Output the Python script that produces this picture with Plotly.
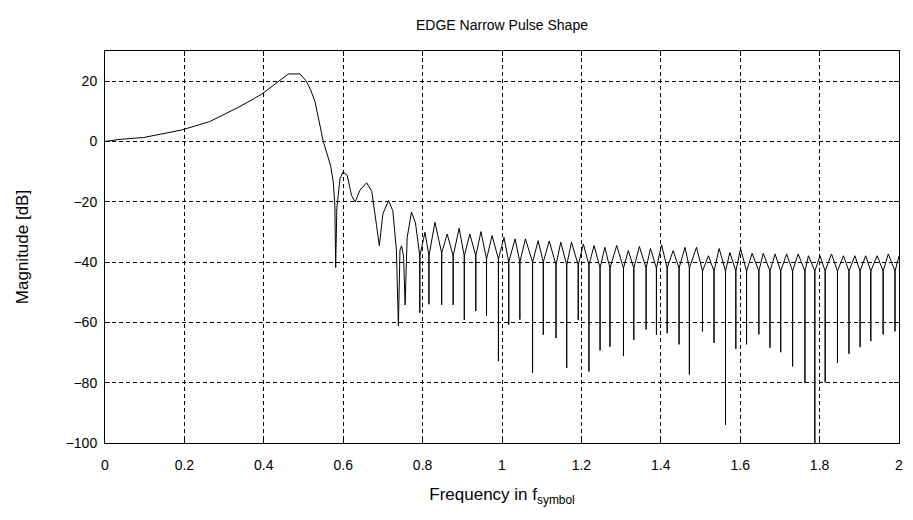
"""EDGE narrow pulse shape - magnitude spectrum"""

import plotly.graph_objects as go

# main lobe and first side lobes, read point by point (frequency in f_symbol, dB)
main_x = [0, 0.038, 0.097, 0.193, 0.264, 0.34, 0.395, 0.441, 0.462, 0.491,
          0.506, 0.518, 0.529, 0.55, 0.568, 0.575, 0.579, 0.581, 0.584, 0.592,
          0.6, 0.61, 0.621, 0.63, 0.642, 0.659, 0.672, 0.684, 0.691, 0.70,
          0.714, 0.725, 0.734, 0.739, 0.743, 0.747, 0.752, 0.756, 0.761, 0.772,
          0.782]
main_db = [0, 0.7, 1.3, 3.8, 6.6, 11.6, 15.7, 20.4, 22.4, 22.4,
           20.2, 17.1, 13.2, -0.1, -7.9, -13.4, -21.2, -41.8, -22, -12.3,
           -10.1, -11.2, -17.9, -20.1, -16.2, -13.7, -16.5, -27.9, -34.6, -24,
           -19.6, -23, -36, -61.2, -36, -34.6, -38, -54.2, -32, -23.4,
           -27]

# side lobe nulls (each one comes just before the matching peak below)
null_x = [0.793, 0.816, 0.848, 0.877, 0.905, 0.934, 0.961, 0.991, 1.017, 1.045,
          1.077, 1.104, 1.136, 1.163, 1.192, 1.219, 1.247, 1.272, 1.306, 1.332,
          1.363, 1.389, 1.416, 1.446, 1.472, 1.505, 1.534, 1.563, 1.589, 1.616,
          1.647, 1.675, 1.702, 1.732, 1.763, 1.788, 1.814, 1.845, 1.874, 1.902,
          1.929, 1.96, 1.99]
null_db = [-56.8, -54, -54.2, -54.2, -59.2, -56.2, -57.8, -72.9, -60.8, -59.1,
           -76.8, -64.1, -65.2, -75.1, -59.2, -76.3, -69.3, -68.1, -71.2, -65.8,
           -62.4, -64.1, -63.6, -67.3, -77.3, -63, -66.8, -94, -68.8, -67.3,
           -64, -68.4, -69.9, -74.6, -80.1, -105, -79.9, -73.4, -70.4, -68.2,
           -66.2, -64, -63]
# level where each lobe narrows into its null spike
rim_db = [-38, -38, -37, -38, -38, -38, -39, -39, -40, -40,
          -40, -40, -41, -41, -41, -41, -42, -42, -42, -42,
          -42, -42, -42, -42, -42, -43, -43, -43, -43, -43,
          -43, -43, -43, -43, -43, -43, -43, -43, -43, -43,
          -43, -43, -43]

peak_x = [0.806, 0.831, 0.862, 0.892, 0.919, 0.947, 0.975, 1.005, 1.033, 1.059,
          1.091, 1.119, 1.148, 1.175, 1.205, 1.232, 1.259, 1.289, 1.318, 1.346,
          1.374, 1.402, 1.431, 1.461, 1.49, 1.52, 1.547, 1.574, 1.601, 1.63,
          1.658, 1.688, 1.717, 1.746, 1.772, 1.801, 1.83, 1.86, 1.889, 1.916,
          1.945, 1.973, 2.0]
peak_db = [-30.1, -26.8, -30.7, -28.8, -30.7, -29.9, -31.2, -31.8, -32.3, -32.3,
           -32.9, -33, -33.4, -33.4, -34, -34.5, -35.1, -34.5, -36.2, -34.8,
           -35.5, -34.3, -36.2, -35.1, -35.1, -37.9, -35.5, -36.8, -35.5, -37.1,
           -37.1, -37.3, -37.3, -37.3, -37.9, -37.9, -37.3, -37.9, -37.9, -37.9,
           -37.9, -37.3, -38]

x_ticks = [0, 0.2, 0.4, 0.6, 0.8, 1, 1.2, 1.4, 1.6, 1.8, 2]
x_labels = ['0', '0.2', '0.4', '0.6', '0.8', '1', '1.2', '1.4', '1.6', '1.8', '2']
y_ticks = [-100, -80, -60, -40, -20, 0, 20]

# stitch the trace: main part, then null spike + lobe for each side lobe
xs = list(main_x)
ys = list(main_db)
for nx, nd, rd, px, pd in zip(null_x, null_db, rim_db, peak_x, peak_db):
    xs += [nx, nx, nx, px]
    ys += [rd, nd, rd, pd]

fig = go.Figure(go.Scatter(
    x=xs, y=ys, mode='lines',
    line=dict(color='black', width=1),
    showlegend=False, hoverinfo='skip'
))

font = dict(family='Liberation Sans, Arial, sans-serif', size=14, color='black')

# the page body has an 8px margin, so the figure is a bit smaller than the window
fig.update_layout(
    width=897, height=504,
    margin=dict(l=97, r=6, t=43, b=69, autoexpand=False),
    paper_bgcolor='white', plot_bgcolor='white',
    font=font,
    title=dict(text='EDGE Narrow Pulse Shape', x=0.5, xref='paper',
               xanchor='center', y=1 - 17 / 504, yanchor='middle',
               yref='container', font=dict(size=14)),
)

axis_common = dict(
    showline=True, linecolor='black', linewidth=1, mirror='ticks',
    ticks='inside', ticklen=5, tickcolor='black',
    showgrid=True, gridcolor='black', gridwidth=1, griddash='4px,3px',
    zeroline=False, automargin=False,
)

fig.update_xaxes(
    range=[0, 2], tickvals=x_ticks, ticktext=x_labels,
    ticklabelstandoff=9,
    title=dict(text='Frequency in f<sub>symbol</sub>', standoff=16),
    **axis_common
)
fig.update_yaxes(
    range=[-100, 30], tickvals=y_ticks,
    ticklabelstandoff=4,
    title=dict(text='Magnitude [dB]', standoff=32),
    **axis_common
)

fig.write_html("out.html")
